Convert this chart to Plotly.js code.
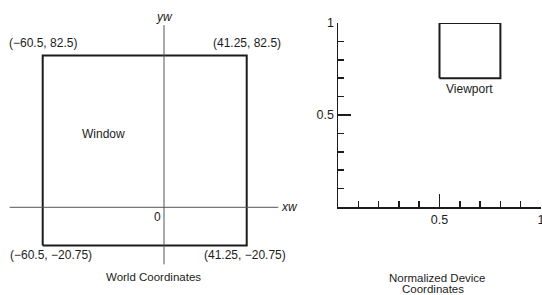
<!DOCTYPE html>
<html><head><meta charset="utf-8">
<script src="https://cdn.plot.ly/plotly-3.0.1.min.js"></script>
<style>html,body{margin:0;padding:0;background:#fff}#c{width:542px;height:295px}</style>
</head><body><div id="c"></div>
<script>
// World-coordinate window
const windowX = [-60.5, 41.25];
const windowY = [-20.75, 82.5];
// extents of the drawn world axes
const xwAxisX = [-77, 57];
const ywAxisY = [-31, 99];
// NDC viewport
const viewportX = [0.5, 0.8];
const viewportY = [0.7, 1.0];
// NDC axis ticks
const ndcTickVals = [0.5, 1];
const ndcTickText = ['0.5', '1'];

const INK = '#1c1c1c';
const FONT = 'Liberation Sans, Arial, sans-serif';
const fmt = v => String(v).replace('-', '\u2212');

const traces = [
  {x:[windowX[0],windowX[1],windowX[1],windowX[0],windowX[0]],
   y:[windowY[0],windowY[0],windowY[1],windowY[1],windowY[0]],
   mode:'lines', line:{color:INK,width:2}, xaxis:'x', yaxis:'y', hoverinfo:'skip'},
  {x:xwAxisX, y:[0,0], mode:'lines', line:{color:'#555',width:1}, xaxis:'x', yaxis:'y', hoverinfo:'skip'},
  {x:[0,0], y:ywAxisY, mode:'lines', line:{color:'#555',width:1}, xaxis:'x', yaxis:'y', hoverinfo:'skip'},
  {x:[viewportX[0],viewportX[1],viewportX[1],viewportX[0],viewportX[0]],
   y:[viewportY[0],viewportY[0],viewportY[1],viewportY[1],viewportY[0]],
   mode:'lines', line:{color:INK,width:2}, xaxis:'x2', yaxis:'y2', hoverinfo:'skip'}
];

const f = {family:FONT, size:12, color:INK};
const tf = {family:FONT, size:11.5, color:INK};
const ann = (o) => Object.assign({showarrow:false, font:f, xanchor:'center', yanchor:'middle'}, o);
const annotations = [
  ann({xref:'x', yref:'y', x:windowX[0], y:windowY[1], yanchor:'bottom', yshift:4, text:'('+fmt(windowX[0])+', '+fmt(windowY[1])+')'}),
  ann({xref:'x', yref:'y', x:windowX[1], y:windowY[1], yanchor:'bottom', yshift:4, text:'('+fmt(windowX[1])+', '+fmt(windowY[1])+')'}),
  ann({xref:'x', yref:'y', x:windowX[0], y:windowY[0], yanchor:'top', yshift:-1, xshift:8, text:'('+fmt(windowX[0])+', '+fmt(windowY[0])+')'}),
  ann({xref:'x', yref:'y', x:windowX[1], y:windowY[0], yanchor:'top', yshift:-1, xshift:-2, text:'('+fmt(windowX[1])+', '+fmt(windowY[0])+')'}),
  ann({xref:'x', yref:'y', x:0, y:0, xanchor:'right', yanchor:'top', xshift:-1, yshift:-1, text:'0'}),
  ann({xref:'x', yref:'y', x:xwAxisX[1], y:0, xanchor:'left', xshift:1, text:'<i>xw</i>'}),
  ann({xref:'x', yref:'y', x:0, y:ywAxisY[1], yanchor:'bottom', yshift:-1, text:'<i>yw</i>'}),
  ann({xref:'paper', yref:'paper', x:103/542, y:1-134/295, text:'Window'}),
  ann({xref:'paper', yref:'paper', x:153/542, y:1-277/295, text:'World Coordinates', font:tf}),
  ann({xref:'x2', yref:'y2', x:(viewportX[0]+viewportX[1])/2, y:viewportY[0], yanchor:'top', yshift:-2, text:'Viewport'}),
  ann({xref:'paper', yref:'paper', x:437/542, y:1-277.5/295, text:'Normalized Device', font:tf}),
  ann({xref:'paper', yref:'paper', x:433/542, y:1-288.5/295, text:'Coordinates', font:tf})
];

const hidden = {visible:false, fixedrange:true};
const ndcAxis = {range:[0,1], showgrid:false, zeroline:false,
    showline:true, linecolor:INK, linewidth:1.5, ticks:'inside', ticklen:13, tickwidth:1.5, tickcolor:INK,
    tickmode:'array', tickvals:ndcTickVals, ticktext:ndcTickText, tickfont:{family:FONT,size:12.5,color:INK},
    ticklabeloverflow:'allow',
    minor:{tickmode:'linear', tick0:0, dtick:0.1, ticks:'inside', ticklen:6, tickwidth:1.5, tickcolor:INK, showgrid:false}};
const layout = {
  width:542, height:295, margin:{l:0,r:0,t:0,b:0},
  paper_bgcolor:'#fff', plot_bgcolor:'rgba(0,0,0,0)', showlegend:false,
  font:f,
  xaxis:Object.assign({domain:[0,1], range:[-164/2.005, (542-164)/2.005]}, hidden),
  yaxis:Object.assign({domain:[0,1], range:[(207.3-295)/1.84, 207.3/1.84]}, hidden),
  xaxis2:Object.assign({domain:[338/542, 541/542], anchor:'y2'}, ndcAxis),
  yaxis2:Object.assign({domain:[(295-207)/295, (295-23)/295], anchor:'x2'}, ndcAxis),
  annotations:annotations
};
Plotly.newPlot('c', traces, layout, {staticPlot:true, displayModeBar:false});
</script></body></html>
